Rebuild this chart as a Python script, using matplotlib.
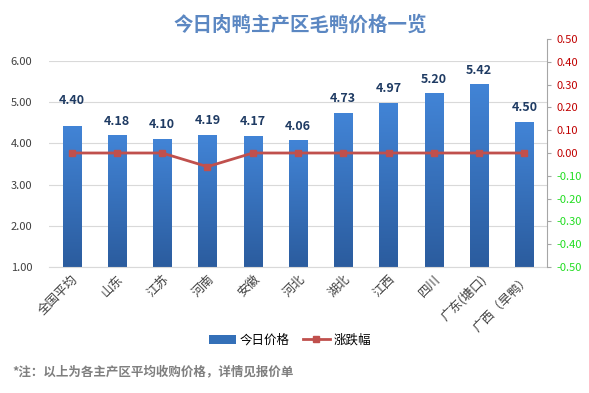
import matplotlib.pyplot as plt
import numpy as np
from matplotlib.colors import LinearSegmentedColormap
from matplotlib.patches import Patch
from matplotlib.lines import Line2D

plt.rcParams['font.family'] = ['Noto Sans CJK SC', 'DejaVu Sans']

regions = ['全国平均', '山东', '江苏', '河南', '安徽', '河北', '湖北', '江西', '四川', '广东(塘口)', '广西（旱鸭）']
prices = [4.40, 4.18, 4.10, 4.19, 4.17, 4.06, 4.73, 4.97, 5.20, 5.42, 4.50]
changes = [0.00, 0.00, 0.00, -0.06, 0.00, 0.00, 0.00, 0.00, 0.00, 0.00, 0.00]
left_ticks = [1.00, 2.00, 3.00, 4.00, 5.00, 6.00]
right_ticks = [-0.5, -0.4, -0.3, -0.2, -0.1, 0.0, 0.1, 0.2, 0.3, 0.4, 0.5]

fig = plt.figure(figsize=(5.89, 3.93), dpi=100)
L, R, B = 49, 547, 267
ax = fig.add_axes([L/589, 1 - B/393, (R - L)/589, (B - 61)/393])
x = np.arange(len(regions))
w = 0.4

# bars with a vertical gradient (light at top, dark at bottom)
grad = np.linspace(0, 1, 256).reshape(-1, 1)
cmap = LinearSegmentedColormap.from_list('b', ['#2b5c9e', '#4284d6'])
for i, (xi, p) in enumerate(zip(x, prices)):
    ax.imshow(grad, cmap=cmap, extent=[xi - w/2, xi + w/2, 1, p], aspect='auto', zorder=2, origin='lower')
    off = 14 if i == 0 else 6  # first label sits higher in the original
    ax.annotate(f'{p:.2f}', xy=(xi, p), xytext=(0, off), textcoords='offset points',
                ha='center', va='bottom', fontsize=9, fontweight='bold', color='#1f3b63')

ax.set_xlim(-0.5, len(regions) - 0.5)
ax.set_ylim(1, 6)
ax.set_yticks(left_ticks)
ax.set_yticklabels([f'{v:.2f}' for v in left_ticks], fontsize=8, color='#404040')
ax.grid(axis='y', color='#d9d9d9', linewidth=0.8, zorder=0)
ax.set_axisbelow(True)
for s in ['top', 'left', 'right']:
    ax.spines[s].set_visible(False)
ax.spines['bottom'].set_color('#d9d9d9')
ax.tick_params(axis='y', length=0, pad=12)
ax.tick_params(axis='x', length=0, pad=4)
ax.set_xticks(x)
ax.set_xticklabels(regions, rotation=45, ha='right', rotation_mode='anchor', fontsize=9, color='#404040')

# secondary axis spans a taller range than the primary one
ax2 = fig.add_axes([L/589, 1 - B/393, (R - L)/589, (B - 39)/393])
ax2.patch.set_alpha(0)
ax2.plot(x, changes, color='#c0504d', linewidth=2, marker='s', markersize=5, zorder=3)
ax2.set_xlim(-0.5, len(regions) - 0.5)
ax2.set_xticks([])
ax2.set_ylim(-0.5, 0.5)
ax2.yaxis.tick_right()
ax2.set_yticks(right_ticks)
ax2.set_yticklabels([f'{v:.2f}' for v in right_ticks], fontsize=8)
for lab, v in zip(ax2.get_yticklabels(), right_ticks):
    lab.set_color('#c00000' if v >= 0 else '#22dd22')
for s in ['top', 'left', 'bottom']:
    ax2.spines[s].set_visible(False)
ax2.spines['right'].set_color('#a6a6a6')
ax2.tick_params(axis='y', length=3, color='#a6a6a6', pad=4)

handles = [Patch(facecolor='#3470b8', label='今日价格'),
           Line2D([0], [0], color='#c0504d', lw=2, marker='s', markersize=5, label='涨跌幅')]
fig.legend(handles=handles, loc='center', bbox_to_anchor=(290/589, 1 - 340/393), ncol=2, frameon=False,
           fontsize=9, handlelength=2.2, columnspacing=1.0, handletextpad=0.3)

fig.text(300/589, 1 - 25/393, '今日肉鸭主产区毛鸭价格一览', ha='center', va='center', fontsize=14,
         fontweight='bold', color='#5b87c2')
fig.text(12/589, 1 - 372/393, '*注：以上为各主产区平均收购价格，详情见报价单', ha='left', va='center', fontsize=9,
         fontweight='bold', color='#7f7f7f')

fig.savefig('out.png', dpi=100)
